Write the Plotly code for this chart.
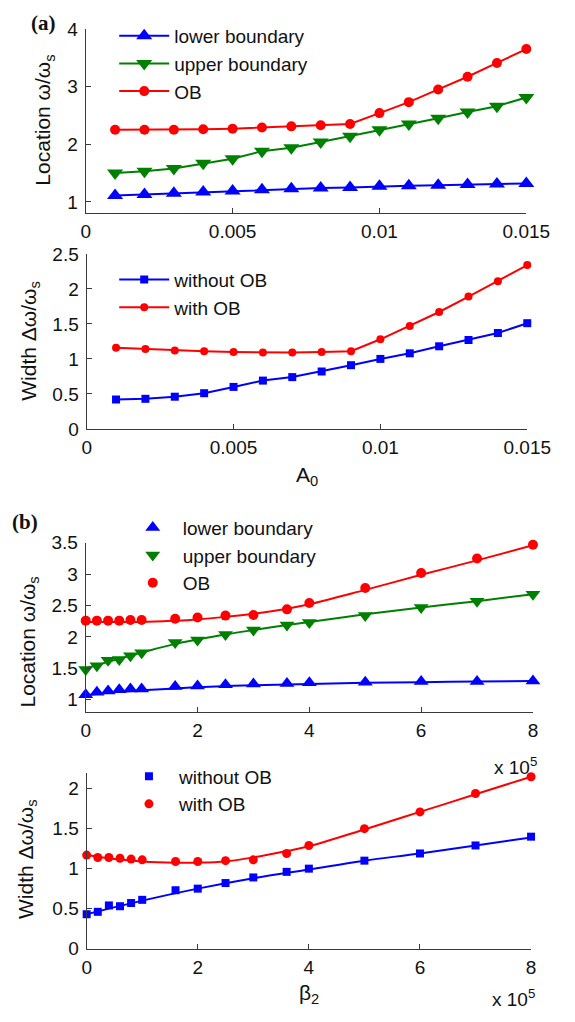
import plotly.graph_objects as go

W, H = 575, 1022

# ---------------- data ----------------
a_x = [0.001, 0.002, 0.003, 0.004, 0.005, 0.006, 0.007, 0.008, 0.009, 0.010,
       0.011, 0.012, 0.013, 0.014, 0.015]
a_lower = [1.11, 1.13, 1.15, 1.17, 1.19, 1.21, 1.23, 1.24, 1.25, 1.27, 1.28, 1.29, 1.30, 1.31, 1.32]
a_upper = [1.50, 1.53, 1.58, 1.67, 1.75, 1.88, 1.94, 2.04, 2.14, 2.25, 2.35, 2.45, 2.56, 2.66, 2.81]
a_ob = [2.25, 2.25, 2.25, 2.26, 2.27, 2.29, 2.31, 2.33, 2.35, 2.54, 2.73, 2.95, 3.17, 3.41, 3.65]
a_width_without = [0.42, 0.43, 0.46, 0.51, 0.60, 0.69, 0.74, 0.82, 0.91, 1.00, 1.08, 1.18, 1.27, 1.37, 1.51]
a_width_with = [1.16, 1.14, 1.12, 1.11, 1.10, 1.09, 1.09, 1.10, 1.11, 1.28, 1.47, 1.67, 1.89, 2.11, 2.34]

# beta_2 in units of 1e5
b_x = [0, 0.2, 0.4, 0.6, 0.8, 1.0, 1.6, 2.0, 2.5, 3.0, 3.6, 4, 5, 6, 7, 8]
b_lower = [1.08, 1.12, 1.14, 1.16, 1.17, 1.17, 1.21, 1.22, 1.24, 1.25, 1.26, 1.27, 1.28, 1.29, 1.29, 1.30]
b_upper = [1.48, 1.54, 1.63, 1.64, 1.70, 1.75, 1.91, 1.95, 2.04, 2.11, 2.19, 2.23, 2.34, 2.47, 2.57, 2.68]
b_ob = [2.26, 2.26, 2.26, 2.26, 2.27, 2.27, 2.29, 2.31, 2.34, 2.35, 2.44, 2.54, 2.78, 3.02, 3.25, 3.47]
b_width_without = [0.43, 0.46, 0.54, 0.53, 0.57, 0.61, 0.73, 0.75, 0.82, 0.89, 0.96, 1.00, 1.10, 1.19, 1.29, 1.40]
b_width_with = [1.17, 1.14, 1.14, 1.13, 1.12, 1.11, 1.09, 1.09, 1.10, 1.11, 1.19, 1.29, 1.50, 1.71, 1.94, 2.15]

# fitted curves
fit_lower_x = [0, 0.5, 1, 1.6, 2, 3, 4, 5, 6, 7, 8]
fit_lower_y = [1.07, 1.12, 1.15, 1.18, 1.20, 1.23, 1.25, 1.27, 1.28, 1.29, 1.30]
fit_upper_x = [0, 1, 1.6, 2, 2.5, 3, 3.6, 4, 5, 6, 7, 8]
fit_upper_y = [1.50, 1.75, 1.89, 1.96, 2.04, 2.11, 2.19, 2.24, 2.36, 2.47, 2.57, 2.68]
fit_ob_x = [0, 1, 1.6, 2, 2.5, 3, 3.6, 4, 5, 6, 7, 8]
fit_ob_y = [2.24, 2.24, 2.26, 2.28, 2.32, 2.37, 2.45, 2.52, 2.75, 2.99, 3.22, 3.46]
fit_wo_x = [0, 1, 2, 3, 4, 5, 6, 7, 8]
fit_wo_y = [0.43, 0.60, 0.75, 0.88, 0.99, 1.10, 1.19, 1.29, 1.39]
fit_w_x = [0, 0.5, 1, 1.6, 2, 2.5, 3, 3.6, 4, 5, 6, 7, 8]
fit_w_y = [1.17, 1.12, 1.09, 1.075, 1.075, 1.09, 1.14, 1.22, 1.28, 1.49, 1.71, 1.93, 2.15]

a_xticks = [0, 0.005, 0.01, 0.015]
a_xticklabels = ["0", "0.005", "0.01", "0.015"]
b_xticks = [0, 2, 4, 6, 8]

BLUE, GREEN, RED = "#0000ff", "#008000", "#ff0000"
FONT = "Liberation Sans, Arial, Helvetica, sans-serif"
AXC = "#3a3a3a"


def px_x(p):
    return p / W


def px_y(p):
    return 1 - p / H


fig = go.Figure()

# ---- panel (a) top ----
fig.add_trace(go.Scatter(x=a_x, y=a_lower, mode="lines+markers", name="lower boundary",
                         line=dict(color=BLUE, width=2),
                         marker=dict(symbol="triangle-up", size=14, color=BLUE),
                         xaxis="x", yaxis="y", legend="legend", cliponaxis=False))
fig.add_trace(go.Scatter(x=a_x, y=a_upper, mode="lines+markers", name="upper boundary",
                         line=dict(color=GREEN, width=2),
                         marker=dict(symbol="triangle-down", size=14, color=GREEN),
                         xaxis="x", yaxis="y", legend="legend", cliponaxis=False))
fig.add_trace(go.Scatter(x=a_x, y=a_ob, mode="lines+markers", name="OB",
                         line=dict(color=RED, width=2),
                         marker=dict(symbol="circle", size=10, color=RED),
                         xaxis="x", yaxis="y", legend="legend", cliponaxis=False))

# ---- panel (a) bottom ----
fig.add_trace(go.Scatter(x=a_x, y=a_width_without, mode="lines+markers", name="without OB",
                         line=dict(color=BLUE, width=2),
                         marker=dict(symbol="square", size=8, color=BLUE),
                         xaxis="x2", yaxis="y2", legend="legend2", cliponaxis=False))
fig.add_trace(go.Scatter(x=a_x, y=a_width_with, mode="lines+markers", name="with OB",
                         line=dict(color=RED, width=2),
                         marker=dict(symbol="circle", size=8, color=RED),
                         xaxis="x2", yaxis="y2", legend="legend2", cliponaxis=False))

# ---- panel (b) top ----
for fx, fy, c in [(fit_lower_x, fit_lower_y, BLUE), (fit_upper_x, fit_upper_y, GREEN),
                  (fit_ob_x, fit_ob_y, RED)]:
    fig.add_trace(go.Scatter(x=fx, y=fy, mode="lines", line=dict(color=c, width=2, shape="spline", smoothing=1),
                             xaxis="x3", yaxis="y3", showlegend=False, hoverinfo="skip"))
fig.add_trace(go.Scatter(x=b_x, y=b_lower, mode="markers", name="lower boundary",
                         marker=dict(symbol="triangle-up", size=13, color=BLUE),
                         xaxis="x3", yaxis="y3", legend="legend3", cliponaxis=False))
fig.add_trace(go.Scatter(x=b_x, y=b_upper, mode="markers", name="upper boundary",
                         marker=dict(symbol="triangle-down", size=13, color=GREEN),
                         xaxis="x3", yaxis="y3", legend="legend3", cliponaxis=False))
fig.add_trace(go.Scatter(x=b_x, y=b_ob, mode="markers", name="OB",
                         marker=dict(symbol="circle", size=10, color=RED),
                         xaxis="x3", yaxis="y3", legend="legend3", cliponaxis=False))

# ---- panel (b) bottom ----
for fx, fy, c in [(fit_wo_x, fit_wo_y, BLUE), (fit_w_x, fit_w_y, RED)]:
    fig.add_trace(go.Scatter(x=fx, y=fy, mode="lines", line=dict(color=c, width=2, shape="spline", smoothing=1),
                             xaxis="x4", yaxis="y4", showlegend=False, hoverinfo="skip"))
fig.add_trace(go.Scatter(x=b_x, y=b_width_without, mode="markers", name="without OB",
                         marker=dict(symbol="square", size=8, color=BLUE),
                         xaxis="x4", yaxis="y4", legend="legend4", cliponaxis=False))
fig.add_trace(go.Scatter(x=b_x, y=b_width_with, mode="markers", name="with OB",
                         marker=dict(symbol="circle", size=9, color=RED),
                         xaxis="x4", yaxis="y4", legend="legend4", cliponaxis=False))


def xax(dom, rng, tickvals, ticktext, anchor):
    return dict(domain=dom, range=rng, tickvals=tickvals, ticktext=ticktext, anchor=anchor,
                showline=True, linecolor=AXC, linewidth=1.2, ticks="inside", ticklen=5,
                tickcolor=AXC, showgrid=False, zeroline=False, mirror=False,
                tickfont=dict(family=FONT, size=19, color="#111"), ticklabelstandoff=1)


def yax(dom, rng, tickvals, anchor):
    return dict(domain=dom, range=rng, tickvals=tickvals, anchor=anchor,
                ticktext=[("%g" % v) for v in tickvals],
                showline=True, linecolor=AXC, linewidth=1.2, ticks="inside", ticklen=5,
                tickcolor=AXC, showgrid=False, zeroline=False, mirror=False,
                tickfont=dict(family=FONT, size=19, color="#111"), ticklabelstandoff=3)


a_dom_x = [px_x(85), px_x(549)]
a2_dom_x = [px_x(86), px_x(550)]
b_dom_x = [px_x(85), px_x(556)]
b2_dom_x = [px_x(86), px_x(554)]

legend_common = dict(font=dict(family=FONT, size=19, color="#111"), bgcolor="rgba(0,0,0,0)",
                     xanchor="left", yanchor="top", itemwidth=50, borderwidth=0)

fig.update_layout(
    width=W, height=H, margin=dict(l=0, r=0, t=0, b=0),
    paper_bgcolor="white", plot_bgcolor="white",
    font=dict(family=FONT, size=19, color="#111"),
    xaxis=xax(a_dom_x, [0, 0.015], a_xticks, a_xticklabels, "y"),
    yaxis=yax([px_y(207.7), px_y(19.3)], [0.8, 4], [1, 2, 3, 4], "x"),
    xaxis2=xax(a2_dom_x, [0, 0.015], a_xticks, a_xticklabels, "y2"),
    yaxis2=yax([px_y(427.7), px_y(249)], [0, 2.5], [0, 0.5, 1, 1.5, 2, 2.5], "x2"),
    xaxis3=xax(b_dom_x, [0, 8], b_xticks, [str(v) for v in b_xticks], "y3"),
    yaxis3=yax([px_y(717), px_y(544)], [0.8, 3.5], [1, 1.5, 2, 2.5, 3, 3.5], "x3"),
    xaxis4=xax(b2_dom_x, [0, 8], b_xticks, [str(v) for v in b_xticks], "y4"),
    yaxis4=yax([px_y(958.3), px_y(778.7)], [0, 2.2], [0, 0.5, 1, 1.5, 2], "x4"),
    legend=dict(legend_common, x=px_x(115), y=px_y(7)),
    legend2=dict(legend_common, x=px_x(115), y=px_y(256)),
    legend3=dict(legend_common, x=px_x(124), y=px_y(509)),
    legend4=dict(legend_common, x=px_x(120), y=px_y(763)),
    showlegend=True,
)

ann = []


def text(x, y, s, size=21, family=FONT, angle=0):
    ann.append(dict(x=px_x(x), y=px_y(y), xref="paper", yref="paper", text=s, showarrow=False,
                    xanchor="center", yanchor="middle", textangle=angle,
                    font=dict(family=family, size=size, color="#111")))


text(41, 13, "<b>(a)</b>", size=21, family="Liberation Serif, Times New Roman, serif")
text(21, 523, "<b>(b)</b>", size=21, family="Liberation Serif, Times New Roman, serif")
text(41, 112, "Location ω/ω<sub>s</sub>", angle=-90)
text(26, 338, "Width Δω/ω<sub>s</sub>", angle=-90)
text(25, 645, "Location ω/ω<sub>s</sub>", angle=-90)
text(23, 867, "Width Δω/ω<sub>s</sub>", angle=-90)
text(318, 476, "A<sub>0</sub>")
text(320, 1005, "β<sub>2</sub>")
text(538, 772, "x 10<sup>5</sup>", size=19)
text(535, 1009, "x 10<sup>5</sup>", size=19)
fig.update_layout(annotations=ann)

fig.write_html("out.html")
